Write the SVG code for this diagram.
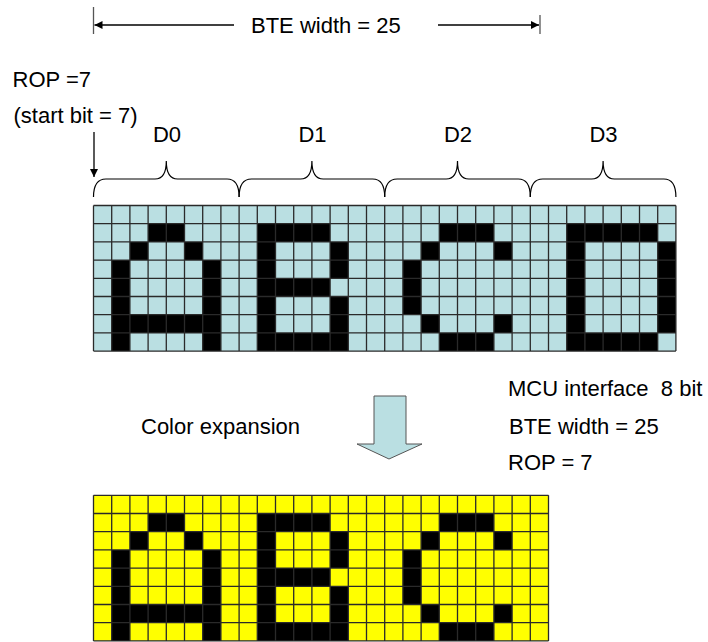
<svg xmlns="http://www.w3.org/2000/svg" width="708" height="642" viewBox="0 0 708 642">
  <style>
    text { font-family: "Liberation Sans", Arial, sans-serif; font-size: 22px; fill: #000; }
    .line { stroke: #000; stroke-width: 1.3; fill: none; }
    .tick { stroke: #555; stroke-width: 1.3; fill: none; }
    .brace { stroke: #000; stroke-width: 1.2; fill: none; }
    .gridlines { stroke: #2a2a2a; stroke-width: 1.3; fill: none; }
    .blk { fill: #000; }
  </style>
  <defs>
    <marker id="ah" viewBox="0 0 10 10" refX="10" refY="5" markerWidth="11" markerHeight="8" markerUnits="userSpaceOnUse" orient="auto">
      <path d="M0 0L10 5L0 10z" fill="#000"/>
    </marker>
  </defs>
  <rect width="708" height="642" fill="#fff"/>

  <g id="dimension">
    <line class="tick" x1="93.5" y1="7" x2="93.5" y2="34"/>
    <line class="tick" x1="540" y1="15" x2="540" y2="34"/>
    <text x="251" y="33">BTE width = 25</text>
  </g>

  <g id="rop-label">
    <text x="12.5" y="87">ROP =7</text>
    <text x="13.5" y="123">(start bit = 7)</text>
  </g>

  <g id="byte-labels">
    <text x="167" y="142" text-anchor="middle">D0</text>
    <text x="312.5" y="142" text-anchor="middle">D1</text>
    <text x="458" y="142" text-anchor="middle">D2</text>
    <text x="603.5" y="142" text-anchor="middle">D3</text>
  </g>

  <g id="braces">
    <path class="brace" d="M93.5 197C93.5 186 97 179 106 179H155C161 179 166.3 175 166.3 161C166.3 175 171.6 179 177.6 179H227C236 179 239.1 186 239.1 197"/>
    <path class="brace" d="M239.1 197C239.1 186 242.6 179 251.6 179H300.6C306.6 179 311.9 175 311.9 161C311.9 175 317.2 179 323.2 179H372.6C381.6 179 384.7 186 384.7 197"/>
    <path class="brace" d="M384.7 197C384.7 186 388.2 179 397.2 179H446.2C452.2 179 457.5 175 457.5 161C457.5 175 462.8 179 468.8 179H518.2C527.2 179 530.3 186 530.3 197"/>
    <path class="brace" d="M530.3 197C530.3 186 533.8 179 542.8 179H591.8C597.8 179 603.1 175 603.1 161C603.1 175 608.4 179 614.4 179H663.8C672.8 179 675.9 186 675.9 197"/>
  </g>

  <g id="source-grid" transform="translate(93.5 205.5) scale(18.2)">
    <rect x="0" y="0" width="32" height="8" fill="#BADFE2"/>
    <path class="blk" d="M3 1h2v1h-2zM9 1h4v1h-4zM19 1h3v1h-3zM26 1h5v1h-5z
      M2 2h1v1h-1zM5 2h1v1h-1zM9 2h1v1h-1zM13 2h1v1h-1zM18 2h1v1h-1zM22 2h1v1h-1zM26 2h1v1h-1zM31 2h1v1h-1z
      M1 3h1v1h-1zM6 3h1v1h-1zM9 3h1v1h-1zM13 3h1v1h-1zM17 3h1v1h-1zM26 3h1v1h-1zM31 3h1v1h-1z
      M1 4h1v1h-1zM6 4h1v1h-1zM9 4h4v1h-4zM17 4h1v1h-1zM26 4h1v1h-1zM31 4h1v1h-1z
      M1 5h1v1h-1zM6 5h1v1h-1zM9 5h1v1h-1zM13 5h1v1h-1zM17 5h1v1h-1zM26 5h1v1h-1zM31 5h1v1h-1z
      M1 6h6v1h-6zM9 6h1v1h-1zM13 6h1v1h-1zM18 6h1v1h-1zM22 6h1v1h-1zM26 6h1v1h-1zM31 6h1v1h-1z
      M1 7h1v1h-1zM6 7h1v1h-1zM9 7h5v1h-5zM19 7h3v1h-3zM26 7h5v1h-5z"/>
    <path class="gridlines" vector-effect="non-scaling-stroke" d="M0 0V8M1 0V8M2 0V8M3 0V8M4 0V8M5 0V8M6 0V8M7 0V8M8 0V8M9 0V8M10 0V8M11 0V8M12 0V8M13 0V8M14 0V8M15 0V8M16 0V8M17 0V8M18 0V8M19 0V8M20 0V8M21 0V8M22 0V8M23 0V8M24 0V8M25 0V8M26 0V8M27 0V8M28 0V8M29 0V8M30 0V8M31 0V8M32 0V8M0 0H32M0 1H32M0 2H32M0 3H32M0 4H32M0 5H32M0 6H32M0 7H32M0 8H32"/>
  </g>

  <g id="expand-arrow">
    <path d="M374 396H406V444H422L389 459L357 444H374Z" fill="#BADFE2" stroke="#555" stroke-width="1"/>
  </g>

  <g id="expansion-label">
    <text x="141" y="434">Color expansion</text>
  </g>

  <g id="settings">
    <text x="508" y="396">MCU interface &#160;8 bit</text>
    <text x="509" y="434">BTE width = 25</text>
    <text x="508" y="470">ROP = 7</text>
  </g>

  <g id="result-grid" transform="translate(93.5 495.3) scale(18.2)">
    <rect x="0" y="0" width="25" height="8" fill="#FFFF00"/>
    <path class="blk" d="M3 1h2v1h-2zM9 1h4v1h-4zM19 1h3v1h-3z
      M2 2h1v1h-1zM5 2h1v1h-1zM9 2h1v1h-1zM13 2h1v1h-1zM18 2h1v1h-1zM22 2h1v1h-1z
      M1 3h1v1h-1zM6 3h1v1h-1zM9 3h1v1h-1zM13 3h1v1h-1zM17 3h1v1h-1z
      M1 4h1v1h-1zM6 4h1v1h-1zM9 4h4v1h-4zM17 4h1v1h-1z
      M1 5h1v1h-1zM6 5h1v1h-1zM9 5h1v1h-1zM13 5h1v1h-1zM17 5h1v1h-1z
      M1 6h6v1h-6zM9 6h1v1h-1zM13 6h1v1h-1zM18 6h1v1h-1zM22 6h1v1h-1z
      M1 7h1v1h-1zM6 7h1v1h-1zM9 7h5v1h-5zM19 7h3v1h-3z"/>
    <path class="gridlines" vector-effect="non-scaling-stroke" d="M0 0V8M1 0V8M2 0V8M3 0V8M4 0V8M5 0V8M6 0V8M7 0V8M8 0V8M9 0V8M10 0V8M11 0V8M12 0V8M13 0V8M14 0V8M15 0V8M16 0V8M17 0V8M18 0V8M19 0V8M20 0V8M21 0V8M22 0V8M23 0V8M24 0V8M25 0V8M0 0H25M0 1H25M0 2H25M0 3H25M0 4H25M0 5H25M0 6H25M0 7H25M0 8H25"/>
  </g>

  <g id="connectors">
    <line class="line" x1="234" y1="25" x2="94.5" y2="25" marker-end="url(#ah)"/>
    <line class="line" x1="438" y1="25" x2="539" y2="25" marker-end="url(#ah)"/>
    <line class="line" x1="94" y1="132" x2="94" y2="177" marker-end="url(#ah)"/>
  </g>
</svg>
